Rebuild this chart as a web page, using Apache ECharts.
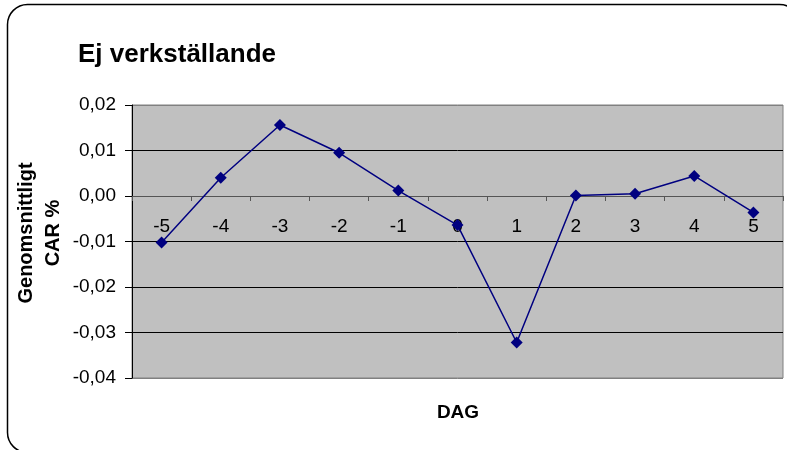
<!DOCTYPE html>
<html>
<head>
<meta charset="utf-8">
<script src="https://cdn.jsdelivr.net/npm/echarts@6/dist/echarts.min.js"></script>
<style>
  html, body { margin: 0; padding: 0; background: #fff; }
  #chart { width: 787px; height: 450px; }
</style>
</head>
<body>
<div id="chart"></div>
<script>
// Event window days and mean cumulative abnormal return
const days = ['-5', '-4', '-3', '-2', '-1', '0', '1', '2', '3', '4', '5'];
const carValues = [-0.0102, 0.0040, 0.0156, 0.0095, 0.0012, -0.0064, -0.0322, 0.0001, 0.0005, 0.0044, -0.0036];
const yTicks = { min: -0.04, max: 0.02, step: 0.01 };

const titleText = 'Ej verkställande';
const xName = 'DAG';
const yName = 'Genomsnittligt\nCAR %';

const font = '"Liberation Sans", Arial, sans-serif';
const chart = echarts.init(document.getElementById('chart'));

// plot box in pixels
const gridTop = 105, gridBottom = 72, chartH = 450;
const plotH = chartH - gridTop - gridBottom;
// shift the category axis up so it sits on the zero line
const zeroOffset = -plotH * (0 - yTicks.min) / (yTicks.max - yTicks.min);

chart.setOption({
  animation: false,
  backgroundColor: '#fff',
  title: {
    text: titleText,
    left: 73,
    top: 37,
    textStyle: { fontFamily: font, fontSize: 26, fontWeight: 'bold', color: '#000' }
  },
  grid: {
    left: 132, right: 4, top: gridTop, bottom: gridBottom,
    show: true,
    backgroundColor: '#c0c0c0',
    borderColor: '#808080',
    borderWidth: 1
  },
  xAxis: {
    type: 'category',
    data: days,
    boundaryGap: true,
    offset: zeroOffset,
    axisLine: { onZero: false, lineStyle: { color: '#555', width: 1 } },
    axisTick: { show: true, length: 5, lineStyle: { color: '#555' } },
    axisLabel: { fontFamily: font, fontSize: 19, color: '#000', margin: 21 },
    splitLine: { show: false }
  },
  yAxis: {
    type: 'value',
    min: yTicks.min,
    max: yTicks.max,
    interval: yTicks.step,
    axisLine: { show: true, onZero: false, lineStyle: { color: '#000', width: 1 } },
    axisTick: { show: true, length: 7, lineStyle: { color: '#000' } },
    axisLabel: {
      fontFamily: font, fontSize: 19, color: '#000', margin: 16,
      formatter: v => v.toFixed(2).replace('.', ',')
    },
    splitLine: {
      show: true,
      lineStyle: { color: ['#808080', '#000', '#000', '#000', '#555', '#000', '#808080'], width: 1 }
    }
  },
  series: [{
    type: 'line',
    data: carValues,
    symbol: 'diamond',
    symbolSize: 12,
    lineStyle: { color: '#000080', width: 1.5 },
    itemStyle: { color: '#000080' }
  }],
  graphic: [
    {
      type: 'rect',
      shape: { x: 7.5, y: 4.5, width: 792, height: 448, r: 20 },
      style: { fill: 'none', stroke: '#000', lineWidth: 1.5 },
      z: 10
    },
    {
      type: 'text',
      x: 40, y: 233,
      rotation: Math.PI / 2,
      style: {
        text: yName,
        fontFamily: font, fontSize: 20, fontWeight: 'bold', fill: '#000',
        align: 'center', verticalAlign: 'middle', lineHeight: 27
      }
    },
    {
      type: 'text',
      x: 458, y: 413,
      style: {
        text: xName,
        fontFamily: font, fontSize: 19, fontWeight: 'bold', fill: '#000',
        align: 'center', verticalAlign: 'middle'
      }
    }
  ]
});
</script>
</body>
</html>
